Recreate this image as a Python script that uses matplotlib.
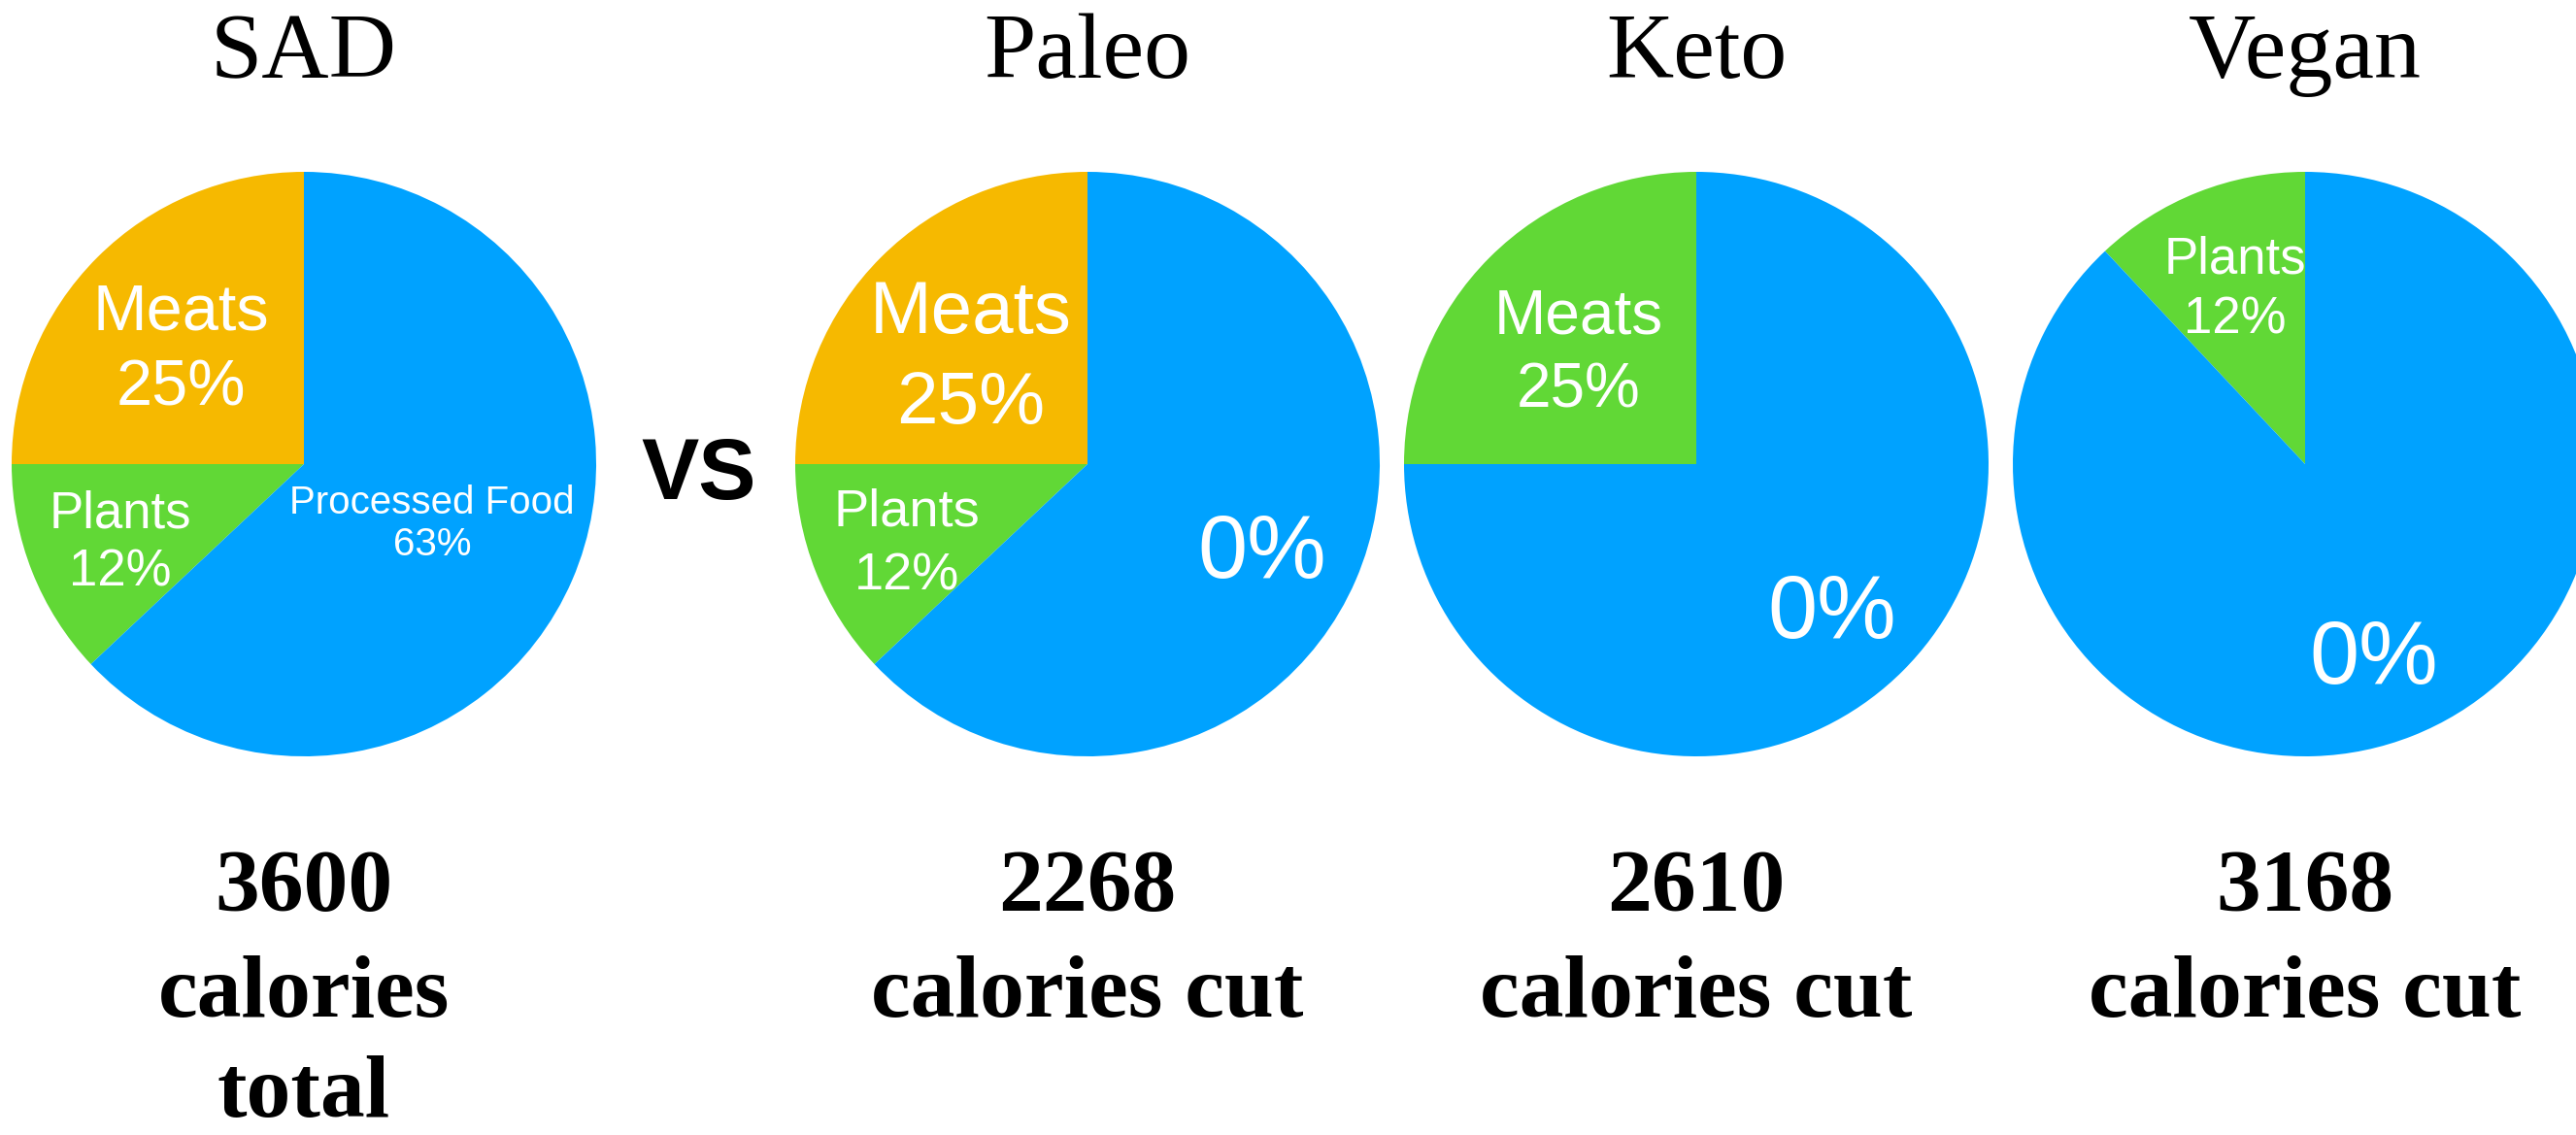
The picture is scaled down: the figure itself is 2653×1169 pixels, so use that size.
import matplotlib
matplotlib.use("Agg")
import matplotlib.pyplot as plt

# Diet composition (percent of calories) and calorie figures
diets = ["SAD", "Paleo", "Keto", "Vegan"]
meats = [25, 25, 25, 0]
plants = [12, 12, 0, 12]
processed = [63, 63, 75, 88]
calories = [3600, 2268, 2610, 3168]
captions = [["calories", "total"], ["calories cut"], ["calories cut"], ["calories cut"]]
processed_text = ["Processed Food\n63%", "0%", "0%", "0%"]

BLUE = "#00A2FF"
ORANGE = "#F6B900"
GREEN = "#61D836"
meat_colors = [ORANGE, ORANGE, GREEN, GREEN]

W, H = 2653, 1169
fig = plt.figure(figsize=(W / 100, H / 100), dpi=100)
ax = fig.add_axes([0, 0, 1, 1])


def Y(y):
    return H - y


centers_x = [313, 1120, 1747, 2374]
center_y = 478
radius = 301

SANS = "Liberation Sans"
SERIF = "Liberation Serif"

for i, name in enumerate(diets):
    vals, cols = [], []
    for v, c in ((meats[i], meat_colors[i]), (plants[i], GREEN), (processed[i], BLUE)):
        if v > 0:
            vals.append(v)
            cols.append(c)
    ax.pie(vals, colors=cols, startangle=90, counterclock=True,
           center=(centers_x[i], Y(center_y)), radius=radius,
           wedgeprops=dict(linewidth=0, antialiased=True), frame=False)
    # diet name above each pie
    ax.text(centers_x[i], Y(80), name, ha="center", va="baseline",
            fontsize=69, family=SERIF, color="black")
    # calorie figure and caption below each pie
    ax.text(centers_x[i], Y(938), str(calories[i]), ha="center", va="baseline",
            fontsize=66, family=SERIF, weight="bold", color="black")
    for k, line in enumerate(captions[i]):
        ax.text(centers_x[i], Y(1047 + 103 * k), line, ha="center", va="baseline",
                fontsize=66, family=SERIF, weight="bold", color="black")


def wedge_label(x, baselines, lines, size):
    for b, t in zip(baselines, lines):
        ax.text(x, Y(b), t, ha="center", va="baseline", fontsize=size,
                family=SANS, color="white")


# SAD
wedge_label(186, [339, 417], ["Meats", f"{meats[0]}%"], 48)
wedge_label(124, [543, 604], ["Plants", f"{plants[0]}%"], 38)
wedge_label(445, [529, 572], processed_text[0].split("\n"), 29)
# Paleo
wedge_label(1000, [343, 436], ["Meats", f"{meats[1]}%"], 55)
wedge_label(934, [542, 608], ["Plants", f"{plants[1]}%"], 39)
wedge_label(1300, [595], [processed_text[1]], 66)
# Keto
wedge_label(1626, [343, 420], ["Meats", f"{meats[2]}%"], 46)
wedge_label(1887, [657], [processed_text[2]], 66)
# Vegan
wedge_label(2302, [282, 343], ["Plants", f"{plants[3]}%"], 38)
wedge_label(2445, [704], [processed_text[3]], 66)

ax.text(720, Y(514), "VS", ha="center", va="baseline", fontsize=64,
        family=SANS, weight="bold", color="black")

ax.set_xlim(0, W)
ax.set_ylim(0, H)
ax.set_aspect("equal")
ax.axis("off")

fig.savefig("out.png", dpi=100, facecolor="white")
